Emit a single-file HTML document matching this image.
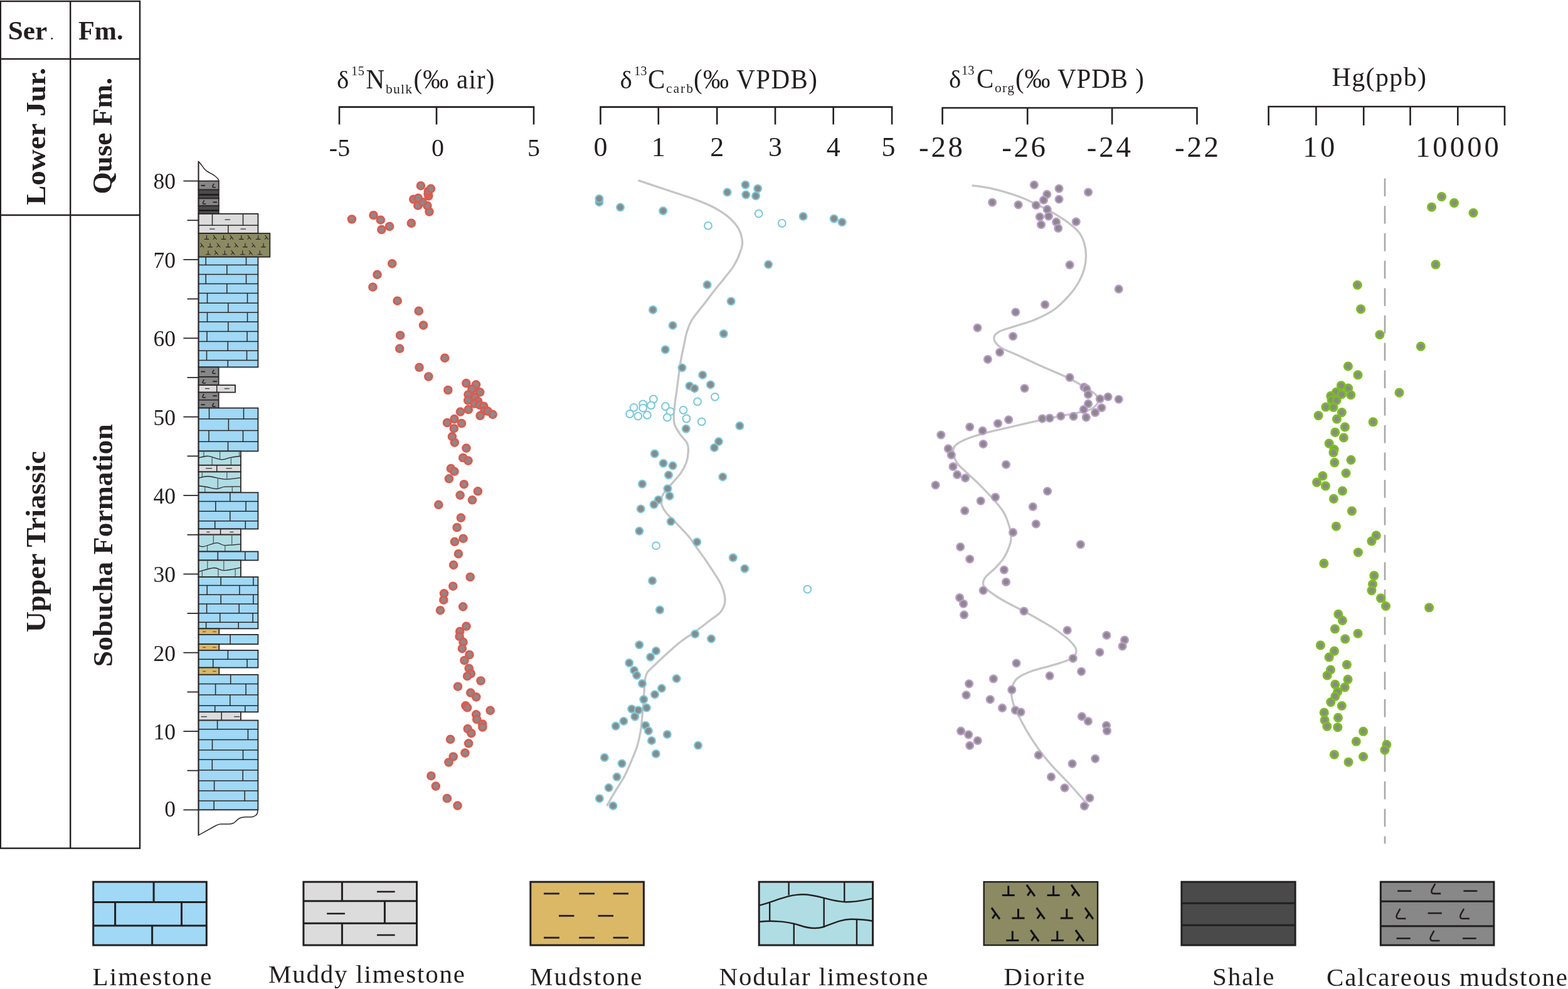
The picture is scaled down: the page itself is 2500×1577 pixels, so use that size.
<!DOCTYPE html>
<html><head><meta charset="utf-8"><title>Figure</title>
<style>html,body{margin:0;padding:0;background:#fff;width:2500px;height:1577px;overflow:hidden}svg{display:block}</style>
</head><body>
<svg width="2500" height="1577" viewBox="0 0 2500 1577">
<rect width="2500" height="1577" fill="#fff"/>
<g fill="none" stroke="#231f20" stroke-width="2.4">
<rect x="0.8" y="2.0" width="222.2" height="1350.6"/>
<line x1="112.2" y1="1.8" x2="112.2" y2="1352.6"/>
<line x1="1.5" y1="94" x2="223" y2="94"/>
<line x1="1.5" y1="343" x2="223" y2="343"/>
</g>
<g style="font-family:'Liberation Serif','Times New Roman',serif;font-weight:bold" fill="#231f20">
<text x="12.8" y="63.4" font-size="42" textLength="62.5" lengthAdjust="spacingAndGlyphs">Ser</text>
<text x="79.6" y="62.9" font-size="26" font-weight="normal">.</text>
<text x="125" y="63.4" font-size="42" textLength="71.5" lengthAdjust="spacingAndGlyphs">Fm.</text>
<text transform="translate(72.2,217.5) rotate(-90)" x="0" y="0" font-size="44" text-anchor="middle" textLength="219" lengthAdjust="spacingAndGlyphs">Lower Jur.</text>
<text transform="translate(177.8,216.6) rotate(-90)" x="0" y="0" font-size="44" text-anchor="middle" textLength="186" lengthAdjust="spacingAndGlyphs">Quse Fm.</text>
<text transform="translate(71.5,863.8) rotate(-90)" x="0" y="0" font-size="44" text-anchor="middle" textLength="289" lengthAdjust="spacingAndGlyphs">Upper  Triassic</text>
<text transform="translate(178.8,869.7) rotate(-90)" x="0" y="0" font-size="44" text-anchor="middle" textLength="387" lengthAdjust="spacingAndGlyphs">Sobucha  Formation</text>
</g>
<path d="M316.5,288.6 L316.5,257.6 C320.5,261 323,266 326,269.5 C330,274.5 338,276.5 342.5,280.5 C346.5,283.5 348.8,286 348.8,288.6" fill="#fff" stroke="#2b2627" stroke-width="1.5"/>
<rect x="316.5" y="288.6" width="32.3" height="14" fill="#878787" stroke="#2b2627" stroke-width="1.8"/>
<line x1="320.5" y1="295.8" x2="327" y2="295.8" stroke="#231f20" stroke-width="1.8"/>
<path d="M341.1,292.8 L339.2,296.4 Q338.4,298.7 340.3,298.7 L343.8,298.7" fill="none" stroke="#231f20" stroke-width="1.5"/>
<rect x="316.5" y="302.6" width="32.3" height="13.8" fill="#4b4b4b" stroke="#2b2627" stroke-width="1.8"/>
<line x1="316.5" y1="310.5" x2="348.8" y2="310.5" stroke="#111" stroke-width="2.0"/>
<rect x="316.5" y="316.4" width="32.3" height="11.9" fill="#878787" stroke="#2b2627" stroke-width="1.8"/>
<path d="M325.6,319.4 L323.7,323 Q322.9,325.3 324.8,325.3 L328.3,325.3" fill="none" stroke="#231f20" stroke-width="1.5"/>
<line x1="339.5" y1="322.4" x2="346" y2="322.4" stroke="#231f20" stroke-width="1.8"/>
<rect x="316.5" y="328.3" width="32.3" height="12.7" fill="#4b4b4b" stroke="#2b2627" stroke-width="1.8"/>
<line x1="316.5" y1="335.5" x2="348.8" y2="335.5" stroke="#111" stroke-width="2.0"/>
<rect x="316.5" y="341" width="94.9" height="31.1" fill="#dcdcdc" stroke="#2b2627" stroke-width="1.8"/>
<line x1="316.5" y1="359.3" x2="411.4" y2="359.3" stroke="#2b2627" stroke-width="1.5"/>
<line x1="338.5" y1="341" x2="338.5" y2="359.3" stroke="#2b2627" stroke-width="1.5"/>
<line x1="387.5" y1="341" x2="387.5" y2="359.3" stroke="#2b2627" stroke-width="1.5"/>
<line x1="363.8" y1="359.3" x2="363.8" y2="372.1" stroke="#2b2627" stroke-width="1.5"/>
<line x1="358.5" y1="350.3" x2="367" y2="350.3" stroke="#4a4a4a" stroke-width="1.5"/>
<line x1="334.1" y1="365.2" x2="342.5" y2="365.2" stroke="#4a4a4a" stroke-width="1.5"/>
<line x1="383.5" y1="365.2" x2="392" y2="365.2" stroke="#4a4a4a" stroke-width="1.5"/>
<rect x="316.5" y="372.1" width="113.8" height="37.6" fill="#8b8a62" stroke="#2b2627" stroke-width="1.8"/>
<path d="M325.7,381.4 L333.3,381.4 M329.5,381.4 L329.5,375.2" stroke="#231f20" stroke-width="1.1" fill="none"/>
<path d="M352.7,381.4 L360.3,381.4 M356.5,381.4 L356.5,375.2" stroke="#231f20" stroke-width="1.1" fill="none"/>
<path d="M381,381.4 L388.6,381.4 M384.8,381.4 L384.8,375.2" stroke="#231f20" stroke-width="1.1" fill="none"/>
<path d="M407.8,381.4 L415.4,381.4 M411.6,381.4 L411.6,375.2" stroke="#231f20" stroke-width="1.1" fill="none"/>
<path d="M340,375 L345.4,381.8 M342.8,378.4 L339.8,381.6" stroke="#231f20" stroke-width="1.1" fill="none"/>
<path d="M366.7,375 L372.1,381.8 M369.5,378.4 L366.5,381.6" stroke="#231f20" stroke-width="1.1" fill="none"/>
<path d="M394.8,375 L400.2,381.8 M397.6,378.4 L394.6,381.6" stroke="#231f20" stroke-width="1.1" fill="none"/>
<path d="M422.5,375 L427.9,381.8 M425.3,378.4 L422.3,381.6" stroke="#231f20" stroke-width="1.1" fill="none"/>
<path d="M331.2,393.9 L338.8,393.9 M335,393.9 L335,387.7" stroke="#231f20" stroke-width="1.1" fill="none"/>
<path d="M359.9,393.9 L367.5,393.9 M363.7,393.9 L363.7,387.7" stroke="#231f20" stroke-width="1.1" fill="none"/>
<path d="M387.1,393.9 L394.7,393.9 M390.9,393.9 L390.9,387.7" stroke="#231f20" stroke-width="1.1" fill="none"/>
<path d="M416.2,393.9 L423.8,393.9 M420,393.9 L420,387.7" stroke="#231f20" stroke-width="1.1" fill="none"/>
<path d="M319.5,387.5 L324.9,394.3 M322.3,390.9 L319.3,394.1" stroke="#231f20" stroke-width="1.1" fill="none"/>
<path d="M345.9,387.5 L351.3,394.3 M348.7,390.9 L345.7,394.1" stroke="#231f20" stroke-width="1.1" fill="none"/>
<path d="M374.3,387.5 L379.7,394.3 M377.1,390.9 L374.1,394.1" stroke="#231f20" stroke-width="1.1" fill="none"/>
<path d="M401.7,387.5 L407.1,394.3 M404.5,390.9 L401.5,394.1" stroke="#231f20" stroke-width="1.1" fill="none"/>
<path d="M328.1,405.7 L335.7,405.7 M331.9,405.7 L331.9,399.5" stroke="#231f20" stroke-width="1.1" fill="none"/>
<path d="M354.5,405.7 L362.1,405.7 M358.3,405.7 L358.3,399.5" stroke="#231f20" stroke-width="1.1" fill="none"/>
<path d="M382.9,405.7 L390.5,405.7 M386.7,405.7 L386.7,399.5" stroke="#231f20" stroke-width="1.1" fill="none"/>
<path d="M410.5,405.7 L418.1,405.7 M414.3,405.7 L414.3,399.5" stroke="#231f20" stroke-width="1.1" fill="none"/>
<path d="M342.3,399.3 L347.7,406.1 M345.1,402.7 L342.1,405.9" stroke="#231f20" stroke-width="1.1" fill="none"/>
<path d="M368.8,399.3 L374.2,406.1 M371.6,402.7 L368.6,405.9" stroke="#231f20" stroke-width="1.1" fill="none"/>
<path d="M397.1,399.3 L402.5,406.1 M399.9,402.7 L396.9,405.9" stroke="#231f20" stroke-width="1.1" fill="none"/>
<rect x="316.5" y="409.7" width="94.9" height="175.7" fill="#a0d8f5" stroke="#2b2627" stroke-width="1.8"/>
<line x1="316.5" y1="422.4" x2="411.4" y2="422.4" stroke="#2b2627" stroke-width="1.5"/>
<line x1="316.5" y1="437.5" x2="411.4" y2="437.5" stroke="#2b2627" stroke-width="1.5"/>
<line x1="316.5" y1="452.4" x2="411.4" y2="452.4" stroke="#2b2627" stroke-width="1.5"/>
<line x1="316.5" y1="467.4" x2="411.4" y2="467.4" stroke="#2b2627" stroke-width="1.5"/>
<line x1="316.5" y1="483.3" x2="411.4" y2="483.3" stroke="#2b2627" stroke-width="1.5"/>
<line x1="316.5" y1="498.2" x2="411.4" y2="498.2" stroke="#2b2627" stroke-width="1.5"/>
<line x1="316.5" y1="513.2" x2="411.4" y2="513.2" stroke="#2b2627" stroke-width="1.5"/>
<line x1="316.5" y1="528.4" x2="411.4" y2="528.4" stroke="#2b2627" stroke-width="1.5"/>
<line x1="316.5" y1="544.4" x2="411.4" y2="544.4" stroke="#2b2627" stroke-width="1.5"/>
<line x1="316.5" y1="559.3" x2="411.4" y2="559.3" stroke="#2b2627" stroke-width="1.5"/>
<line x1="316.5" y1="574.5" x2="411.4" y2="574.5" stroke="#2b2627" stroke-width="1.5"/>
<line x1="328.2" y1="409.7" x2="328.2" y2="422.4" stroke="#2b2627" stroke-width="1.5"/>
<line x1="392.5" y1="409.7" x2="392.5" y2="422.4" stroke="#2b2627" stroke-width="1.5"/>
<line x1="361.8" y1="422.4" x2="361.8" y2="437.5" stroke="#2b2627" stroke-width="1.5"/>
<line x1="328.2" y1="437.5" x2="328.2" y2="452.4" stroke="#2b2627" stroke-width="1.5"/>
<line x1="392.5" y1="437.5" x2="392.5" y2="452.4" stroke="#2b2627" stroke-width="1.5"/>
<line x1="361.8" y1="452.4" x2="361.8" y2="467.4" stroke="#2b2627" stroke-width="1.5"/>
<line x1="330.5" y1="467.4" x2="330.5" y2="483.3" stroke="#2b2627" stroke-width="1.5"/>
<line x1="394.5" y1="467.4" x2="394.5" y2="483.3" stroke="#2b2627" stroke-width="1.5"/>
<line x1="363.8" y1="483.3" x2="363.8" y2="498.2" stroke="#2b2627" stroke-width="1.5"/>
<line x1="330.5" y1="498.2" x2="330.5" y2="513.2" stroke="#2b2627" stroke-width="1.5"/>
<line x1="394.5" y1="498.2" x2="394.5" y2="513.2" stroke="#2b2627" stroke-width="1.5"/>
<line x1="363.8" y1="513.2" x2="363.8" y2="528.4" stroke="#2b2627" stroke-width="1.5"/>
<line x1="330" y1="528.4" x2="330" y2="544.4" stroke="#2b2627" stroke-width="1.5"/>
<line x1="394" y1="528.4" x2="394" y2="544.4" stroke="#2b2627" stroke-width="1.5"/>
<line x1="363.3" y1="544.4" x2="363.3" y2="559.3" stroke="#2b2627" stroke-width="1.5"/>
<line x1="329.5" y1="559.3" x2="329.5" y2="574.5" stroke="#2b2627" stroke-width="1.5"/>
<line x1="393.5" y1="559.3" x2="393.5" y2="574.5" stroke="#2b2627" stroke-width="1.5"/>
<line x1="363.3" y1="574.5" x2="363.3" y2="585.4" stroke="#2b2627" stroke-width="1.5"/>
<rect x="316.5" y="585.4" width="32.1" height="28.7" fill="#878787" stroke="#2b2627" stroke-width="1.8"/>
<line x1="316.5" y1="600.9" x2="348.6" y2="600.9" stroke="#231f20" stroke-width="1.6"/>
<line x1="320.3" y1="592.6" x2="326.9" y2="592.6" stroke="#231f20" stroke-width="1.8"/>
<path d="M341,589.6 L339.1,593.2 Q338.3,595.5 340.2,595.5 L343.7,595.5" fill="none" stroke="#231f20" stroke-width="1.5"/>
<path d="M325.2,605.2 L323.3,608.8 Q322.5,611.1 324.4,611.1 L327.9,611.1" fill="none" stroke="#231f20" stroke-width="1.5"/>
<line x1="339.4" y1="608.2" x2="346" y2="608.2" stroke="#231f20" stroke-width="1.8"/>
<rect x="316.5" y="614.1" width="58.5" height="11.5" fill="#dcdcdc" stroke="#2b2627" stroke-width="1.8"/>
<line x1="345.7" y1="614.1" x2="345.7" y2="625.6" stroke="#2b2627" stroke-width="1.5"/>
<line x1="326.9" y1="619.6" x2="334.1" y2="619.6" stroke="#4a4a4a" stroke-width="1.5"/>
<line x1="357.8" y1="619.6" x2="365.7" y2="619.6" stroke="#4a4a4a" stroke-width="1.5"/>
<rect x="316.5" y="625.6" width="32.1" height="25" fill="#878787" stroke="#2b2627" stroke-width="1.8"/>
<line x1="316.5" y1="637.8" x2="348.6" y2="637.8" stroke="#231f20" stroke-width="1.6"/>
<path d="M325.2,628.2 L323.3,631.8 Q322.5,634.1 324.4,634.1 L327.9,634.1" fill="none" stroke="#231f20" stroke-width="1.5"/>
<line x1="339.4" y1="631.2" x2="346" y2="631.2" stroke="#231f20" stroke-width="1.8"/>
<line x1="320.3" y1="645.3" x2="326.9" y2="645.3" stroke="#231f20" stroke-width="1.8"/>
<path d="M341,642.3 L339.1,645.9 Q338.3,648.2 340.2,648.2 L343.7,648.2" fill="none" stroke="#231f20" stroke-width="1.5"/>
<rect x="316.5" y="650.6" width="94.9" height="68.8" fill="#a0d8f5" stroke="#2b2627" stroke-width="1.8"/>
<line x1="316.5" y1="668.1" x2="411.4" y2="668.1" stroke="#2b2627" stroke-width="1.5"/>
<line x1="316.5" y1="686.5" x2="411.4" y2="686.5" stroke="#2b2627" stroke-width="1.5"/>
<line x1="316.5" y1="704.3" x2="411.4" y2="704.3" stroke="#2b2627" stroke-width="1.5"/>
<line x1="333.5" y1="650.6" x2="333.5" y2="668.1" stroke="#2b2627" stroke-width="1.5"/>
<line x1="388.5" y1="650.6" x2="388.5" y2="668.1" stroke="#2b2627" stroke-width="1.5"/>
<line x1="364.4" y1="668.1" x2="364.4" y2="686.5" stroke="#2b2627" stroke-width="1.5"/>
<line x1="333" y1="686.5" x2="333" y2="704.3" stroke="#2b2627" stroke-width="1.5"/>
<line x1="387.5" y1="686.5" x2="387.5" y2="704.3" stroke="#2b2627" stroke-width="1.5"/>
<line x1="363.5" y1="704.3" x2="363.5" y2="719.4" stroke="#2b2627" stroke-width="1.5"/>
<rect x="316.5" y="719.4" width="67.4" height="22.4" fill="#b0dde4" stroke="#2b2627" stroke-width="1.8"/>
<path d="M316.5,730 C319.1,729.5 326.1,726.8 332.2,727.3 C338.3,727.8 347.2,732.6 353.2,732.9 C359.2,733.2 363.3,730.2 368.4,729.3 C373.5,728.4 381.3,727.6 383.9,727.3" fill="none" stroke="#2b2627" stroke-width="1.3"/>
<line x1="324.9" y1="719.4" x2="324.9" y2="729.5" stroke="#555" stroke-width="1.2"/>
<line x1="350.6" y1="719.4" x2="350.6" y2="732" stroke="#555" stroke-width="1.2"/>
<line x1="381.5" y1="719.4" x2="381.5" y2="727.6" stroke="#555" stroke-width="1.2"/>
<line x1="338.1" y1="729.5" x2="338.1" y2="741.8" stroke="#555" stroke-width="1.2"/>
<line x1="368.4" y1="729.6" x2="368.4" y2="741.8" stroke="#555" stroke-width="1.2"/>
<rect x="316.5" y="741.8" width="67.4" height="10.6" fill="#dcdcdc" stroke="#2b2627" stroke-width="1.8"/>
<line x1="345.7" y1="741.8" x2="345.7" y2="752.4" stroke="#2b2627" stroke-width="1.5"/>
<line x1="328" y1="746.8" x2="338" y2="746.8" stroke="#4a4a4a" stroke-width="1.5"/>
<line x1="360.5" y1="746.8" x2="369.7" y2="746.8" stroke="#4a4a4a" stroke-width="1.5"/>
<rect x="316.5" y="752.4" width="67.4" height="33" fill="#b0dde4" stroke="#2b2627" stroke-width="1.8"/>
<path d="M316.5,762.4 C319.1,761.9 325,759.2 332,759.5 C339,759.8 349.9,763.7 358.5,764.1 C367.1,764.5 379.7,762.1 383.9,761.7" fill="none" stroke="#2b2627" stroke-width="1.3"/>
<path d="M316.5,774.5 C318.8,774.8 325.2,775.7 330,776.5 C334.8,777.3 340.6,779.5 345.3,779.5 C350.1,779.5 352.1,776.8 358.5,776.2 C364.9,775.6 379.7,775.9 383.9,775.8" fill="none" stroke="#2b2627" stroke-width="1.3"/>
<line x1="322.3" y1="752.4" x2="322.3" y2="762" stroke="#555" stroke-width="1.2"/>
<line x1="361.8" y1="752.4" x2="361.8" y2="764" stroke="#555" stroke-width="1.2"/>
<line x1="347.3" y1="762" x2="347.3" y2="778.5" stroke="#555" stroke-width="1.2"/>
<line x1="326.8" y1="776.2" x2="326.8" y2="785.4" stroke="#555" stroke-width="1.2"/>
<line x1="370.3" y1="776" x2="370.3" y2="785.4" stroke="#555" stroke-width="1.2"/>
<rect x="316.5" y="785.4" width="94.9" height="58" fill="#a0d8f5" stroke="#2b2627" stroke-width="1.8"/>
<line x1="316.5" y1="799.5" x2="411.4" y2="799.5" stroke="#2b2627" stroke-width="1.5"/>
<line x1="316.5" y1="815.3" x2="411.4" y2="815.3" stroke="#2b2627" stroke-width="1.5"/>
<line x1="316.5" y1="830.8" x2="411.4" y2="830.8" stroke="#2b2627" stroke-width="1.5"/>
<line x1="366.8" y1="785.4" x2="366.8" y2="799.5" stroke="#2b2627" stroke-width="1.5"/>
<line x1="343.8" y1="799.5" x2="343.8" y2="815.3" stroke="#2b2627" stroke-width="1.5"/>
<line x1="392.1" y1="799.5" x2="392.1" y2="815.3" stroke="#2b2627" stroke-width="1.5"/>
<line x1="366.8" y1="815.3" x2="366.8" y2="830.8" stroke="#2b2627" stroke-width="1.5"/>
<line x1="342.7" y1="830.8" x2="342.7" y2="843.4" stroke="#2b2627" stroke-width="1.5"/>
<line x1="391.3" y1="830.8" x2="391.3" y2="843.4" stroke="#2b2627" stroke-width="1.5"/>
<rect x="316.5" y="843.4" width="67.4" height="9.2" fill="#dcdcdc" stroke="#2b2627" stroke-width="1.8"/>
<line x1="351.6" y1="843.4" x2="351.6" y2="852.6" stroke="#2b2627" stroke-width="1.5"/>
<line x1="329.3" y1="848.4" x2="334.5" y2="848.4" stroke="#4a4a4a" stroke-width="1.5"/>
<line x1="366.4" y1="848.4" x2="372.3" y2="848.4" stroke="#4a4a4a" stroke-width="1.5"/>
<rect x="316.5" y="852.6" width="67.4" height="26.9" fill="#b0dde4" stroke="#2b2627" stroke-width="1.8"/>
<path d="M316.5,869.6 C317.8,869.9 319.4,872.2 324.2,871.6 C329,871 339.6,866 345.3,865.7 C351,865.4 352.1,869.3 358.5,869.6 C364.9,869.9 379.7,867.9 383.9,867.6" fill="none" stroke="#2b2627" stroke-width="1.3"/>
<line x1="340.3" y1="852.6" x2="340.3" y2="866.5" stroke="#555" stroke-width="1.2"/>
<line x1="369.7" y1="852.6" x2="369.7" y2="868.8" stroke="#555" stroke-width="1.2"/>
<line x1="330.5" y1="869.5" x2="330.5" y2="879.5" stroke="#555" stroke-width="1.2"/>
<line x1="358.8" y1="869.6" x2="358.8" y2="879.5" stroke="#555" stroke-width="1.2"/>
<rect x="316.5" y="879.5" width="94.9" height="13.9" fill="#a0d8f5" stroke="#2b2627" stroke-width="1.8"/>
<line x1="347.3" y1="879.5" x2="347.3" y2="893.4" stroke="#2b2627" stroke-width="1.5"/>
<line x1="390.8" y1="879.5" x2="390.8" y2="893.4" stroke="#2b2627" stroke-width="1.5"/>
<rect x="316.5" y="893.4" width="67.4" height="26.6" fill="#b0dde4" stroke="#2b2627" stroke-width="1.8"/>
<path d="M316.5,911.7 C320.6,910.7 334.5,905.8 341.3,905.5 C348.1,905.2 350,909.8 357.1,909.7 C364.2,909.6 379.4,905.9 383.9,905.1" fill="none" stroke="#2b2627" stroke-width="1.3"/>
<line x1="330.8" y1="893.4" x2="330.8" y2="908.5" stroke="#555" stroke-width="1.2"/>
<line x1="356.8" y1="893.4" x2="356.8" y2="909.5" stroke="#555" stroke-width="1.2"/>
<line x1="322.3" y1="910.5" x2="322.3" y2="920" stroke="#555" stroke-width="1.2"/>
<line x1="347.9" y1="906.5" x2="347.9" y2="920" stroke="#555" stroke-width="1.2"/>
<line x1="375.1" y1="906.5" x2="375.1" y2="920" stroke="#555" stroke-width="1.2"/>
<rect x="316.5" y="920" width="94.9" height="82.4" fill="#a0d8f5" stroke="#2b2627" stroke-width="1.8"/>
<line x1="316.5" y1="933.6" x2="411.4" y2="933.6" stroke="#2b2627" stroke-width="1.5"/>
<line x1="316.5" y1="948.3" x2="411.4" y2="948.3" stroke="#2b2627" stroke-width="1.5"/>
<line x1="316.5" y1="962.9" x2="411.4" y2="962.9" stroke="#2b2627" stroke-width="1.5"/>
<line x1="316.5" y1="977.7" x2="411.4" y2="977.7" stroke="#2b2627" stroke-width="1.5"/>
<line x1="316.5" y1="992.2" x2="411.4" y2="992.2" stroke="#2b2627" stroke-width="1.5"/>
<line x1="352.2" y1="920" x2="352.2" y2="933.6" stroke="#2b2627" stroke-width="1.5"/>
<line x1="403.9" y1="920" x2="403.9" y2="933.6" stroke="#2b2627" stroke-width="1.5"/>
<line x1="330.2" y1="933.6" x2="330.2" y2="948.3" stroke="#2b2627" stroke-width="1.5"/>
<line x1="381.9" y1="933.6" x2="381.9" y2="948.3" stroke="#2b2627" stroke-width="1.5"/>
<line x1="352.2" y1="948.3" x2="352.2" y2="962.9" stroke="#2b2627" stroke-width="1.5"/>
<line x1="403.9" y1="948.3" x2="403.9" y2="962.9" stroke="#2b2627" stroke-width="1.5"/>
<line x1="329.6" y1="962.9" x2="329.6" y2="977.7" stroke="#2b2627" stroke-width="1.5"/>
<line x1="381.2" y1="962.9" x2="381.2" y2="977.7" stroke="#2b2627" stroke-width="1.5"/>
<line x1="350.7" y1="977.7" x2="350.7" y2="992.2" stroke="#2b2627" stroke-width="1.5"/>
<line x1="403.1" y1="977.7" x2="403.1" y2="992.2" stroke="#2b2627" stroke-width="1.5"/>
<line x1="328.6" y1="992.2" x2="328.6" y2="1002.4" stroke="#2b2627" stroke-width="1.5"/>
<line x1="380.2" y1="992.2" x2="380.2" y2="1002.4" stroke="#2b2627" stroke-width="1.5"/>
<rect x="316.5" y="1002.4" width="32.8" height="9.5" fill="#dbb866" stroke="#2b2627" stroke-width="1.8"/>
<line x1="323" y1="1007.3" x2="328.2" y2="1007.3" stroke="#6a6a6a" stroke-width="1.6"/>
<line x1="339.1" y1="1007.3" x2="344.7" y2="1007.3" stroke="#6a6a6a" stroke-width="1.6"/>
<rect x="316.5" y="1011.9" width="94.9" height="15.2" fill="#a0d8f5" stroke="#2b2627" stroke-width="1.8"/>
<line x1="367.1" y1="1011.9" x2="367.1" y2="1027.1" stroke="#2b2627" stroke-width="1.5"/>
<rect x="316.5" y="1027.1" width="32.8" height="9.8" fill="#dbb866" stroke="#2b2627" stroke-width="1.8"/>
<line x1="323" y1="1032.3" x2="328.2" y2="1032.3" stroke="#6a6a6a" stroke-width="1.6"/>
<line x1="339.1" y1="1032.3" x2="344.7" y2="1032.3" stroke="#6a6a6a" stroke-width="1.6"/>
<rect x="316.5" y="1036.9" width="94.9" height="27.7" fill="#a0d8f5" stroke="#2b2627" stroke-width="1.8"/>
<line x1="316.5" y1="1051.2" x2="411.4" y2="1051.2" stroke="#2b2627" stroke-width="1.5"/>
<line x1="363.4" y1="1036.9" x2="363.4" y2="1051.2" stroke="#2b2627" stroke-width="1.5"/>
<line x1="339.7" y1="1051.2" x2="339.7" y2="1064.6" stroke="#2b2627" stroke-width="1.5"/>
<line x1="394" y1="1051.2" x2="394" y2="1064.6" stroke="#2b2627" stroke-width="1.5"/>
<rect x="316.5" y="1064.6" width="32.8" height="11.2" fill="#dbb866" stroke="#2b2627" stroke-width="1.8"/>
<line x1="323" y1="1070.5" x2="328.2" y2="1070.5" stroke="#6a6a6a" stroke-width="1.6"/>
<line x1="339.1" y1="1070.5" x2="344.7" y2="1070.5" stroke="#6a6a6a" stroke-width="1.6"/>
<rect x="316.5" y="1075.8" width="94.9" height="59.5" fill="#a0d8f5" stroke="#2b2627" stroke-width="1.8"/>
<line x1="316.5" y1="1090.5" x2="411.4" y2="1090.5" stroke="#2b2627" stroke-width="1.5"/>
<line x1="316.5" y1="1108" x2="411.4" y2="1108" stroke="#2b2627" stroke-width="1.5"/>
<line x1="316.5" y1="1125.2" x2="411.4" y2="1125.2" stroke="#2b2627" stroke-width="1.5"/>
<line x1="367.7" y1="1075.8" x2="367.7" y2="1090.5" stroke="#2b2627" stroke-width="1.5"/>
<line x1="343.6" y1="1090.5" x2="343.6" y2="1108" stroke="#2b2627" stroke-width="1.5"/>
<line x1="392.1" y1="1090.5" x2="392.1" y2="1108" stroke="#2b2627" stroke-width="1.5"/>
<line x1="366.8" y1="1108" x2="366.8" y2="1125.2" stroke="#2b2627" stroke-width="1.5"/>
<line x1="342.7" y1="1125.2" x2="342.7" y2="1135.3" stroke="#2b2627" stroke-width="1.5"/>
<line x1="390.8" y1="1125.2" x2="390.8" y2="1135.3" stroke="#2b2627" stroke-width="1.5"/>
<rect x="316.5" y="1135.3" width="67.4" height="13.3" fill="#dcdcdc" stroke="#2b2627" stroke-width="1.8"/>
<line x1="353.2" y1="1135.3" x2="353.2" y2="1148.6" stroke="#2b2627" stroke-width="1.5"/>
<line x1="320.6" y1="1142.7" x2="329.8" y2="1142.7" stroke="#4a4a4a" stroke-width="1.5"/>
<line x1="373.2" y1="1142.7" x2="382.2" y2="1142.7" stroke="#4a4a4a" stroke-width="1.5"/>
<rect x="316.5" y="1148.6" width="94.9" height="142.8" fill="#a0d8f5" stroke="#2b2627" stroke-width="1.8"/>
<line x1="316.5" y1="1162.7" x2="411.4" y2="1162.7" stroke="#2b2627" stroke-width="1.5"/>
<line x1="316.5" y1="1179.5" x2="411.4" y2="1179.5" stroke="#2b2627" stroke-width="1.5"/>
<line x1="316.5" y1="1196" x2="411.4" y2="1196" stroke="#2b2627" stroke-width="1.5"/>
<line x1="316.5" y1="1211.2" x2="411.4" y2="1211.2" stroke="#2b2627" stroke-width="1.5"/>
<line x1="316.5" y1="1228" x2="411.4" y2="1228" stroke="#2b2627" stroke-width="1.5"/>
<line x1="316.5" y1="1244.9" x2="411.4" y2="1244.9" stroke="#2b2627" stroke-width="1.5"/>
<line x1="316.5" y1="1261.1" x2="411.4" y2="1261.1" stroke="#2b2627" stroke-width="1.5"/>
<line x1="316.5" y1="1277" x2="411.4" y2="1277" stroke="#2b2627" stroke-width="1.5"/>
<line x1="346.6" y1="1148.6" x2="346.6" y2="1162.7" stroke="#2b2627" stroke-width="1.5"/>
<line x1="395.4" y1="1162.7" x2="395.4" y2="1179.5" stroke="#2b2627" stroke-width="1.5"/>
<line x1="338.5" y1="1179.5" x2="338.5" y2="1196" stroke="#2b2627" stroke-width="1.5"/>
<line x1="387.5" y1="1196" x2="387.5" y2="1211.2" stroke="#2b2627" stroke-width="1.5"/>
<line x1="338.3" y1="1211.2" x2="338.3" y2="1228" stroke="#2b2627" stroke-width="1.5"/>
<line x1="387.2" y1="1228" x2="387.2" y2="1244.9" stroke="#2b2627" stroke-width="1.5"/>
<line x1="341.6" y1="1244.9" x2="341.6" y2="1261.1" stroke="#2b2627" stroke-width="1.5"/>
<line x1="390.2" y1="1261.1" x2="390.2" y2="1277" stroke="#2b2627" stroke-width="1.5"/>
<line x1="341.2" y1="1277" x2="341.2" y2="1291.4" stroke="#2b2627" stroke-width="1.5"/>
<path d="M316.5,1291.4 L410.8,1291.4 L410.8,1294 C410.8,1299 406,1302.8 400,1302.8 L391,1302.8 C384,1302.8 378.5,1306.5 375.5,1310 C373,1313 369,1314 364,1314 L352,1314 C349,1314 347,1315 344,1316.5 L316.5,1331.8 Z" fill="#fff" stroke="#2b2627" stroke-width="1.5"/>
<line x1="316.5" y1="257.6" x2="316.5" y2="1331.8" stroke="#2b2627" stroke-width="1.8"/>
<line x1="292.4" y1="1291.4" x2="316.5" y2="1291.4" stroke="#2b2627" stroke-width="1.8"/>
<text x="280" y="1301.7" font-size="35.5" text-anchor="end" style="font-family:'Liberation Serif','Times New Roman',serif" fill="#231f20">0</text>
<line x1="298.5" y1="1228.7" x2="316.5" y2="1228.7" stroke="#2b2627" stroke-width="1.8"/>
<line x1="292.4" y1="1166.1" x2="316.5" y2="1166.1" stroke="#2b2627" stroke-width="1.8"/>
<text x="280" y="1178.9" font-size="35.5" text-anchor="end" style="font-family:'Liberation Serif','Times New Roman',serif" fill="#231f20">10</text>
<line x1="298.5" y1="1103.4" x2="316.5" y2="1103.4" stroke="#2b2627" stroke-width="1.8"/>
<line x1="292.4" y1="1040.7" x2="316.5" y2="1040.7" stroke="#2b2627" stroke-width="1.8"/>
<text x="280" y="1053.5" font-size="35.5" text-anchor="end" style="font-family:'Liberation Serif','Times New Roman',serif" fill="#231f20">20</text>
<line x1="298.5" y1="978" x2="316.5" y2="978" stroke="#2b2627" stroke-width="1.8"/>
<line x1="292.4" y1="915.4" x2="316.5" y2="915.4" stroke="#2b2627" stroke-width="1.8"/>
<text x="280" y="928.1" font-size="35.5" text-anchor="end" style="font-family:'Liberation Serif','Times New Roman',serif" fill="#231f20">30</text>
<line x1="298.5" y1="852.7" x2="316.5" y2="852.7" stroke="#2b2627" stroke-width="1.8"/>
<line x1="292.4" y1="790" x2="316.5" y2="790" stroke="#2b2627" stroke-width="1.8"/>
<text x="280" y="802.8" font-size="35.5" text-anchor="end" style="font-family:'Liberation Serif','Times New Roman',serif" fill="#231f20">40</text>
<line x1="298.5" y1="727.3" x2="316.5" y2="727.3" stroke="#2b2627" stroke-width="1.8"/>
<line x1="292.4" y1="664.7" x2="316.5" y2="664.7" stroke="#2b2627" stroke-width="1.8"/>
<text x="280" y="677.5" font-size="35.5" text-anchor="end" style="font-family:'Liberation Serif','Times New Roman',serif" fill="#231f20">50</text>
<line x1="298.5" y1="602" x2="316.5" y2="602" stroke="#2b2627" stroke-width="1.8"/>
<line x1="292.4" y1="539.3" x2="316.5" y2="539.3" stroke="#2b2627" stroke-width="1.8"/>
<text x="280" y="552.1" font-size="35.5" text-anchor="end" style="font-family:'Liberation Serif','Times New Roman',serif" fill="#231f20">60</text>
<line x1="298.5" y1="476.6" x2="316.5" y2="476.6" stroke="#2b2627" stroke-width="1.8"/>
<line x1="292.4" y1="414" x2="316.5" y2="414" stroke="#2b2627" stroke-width="1.8"/>
<text x="280" y="426.8" font-size="35.5" text-anchor="end" style="font-family:'Liberation Serif','Times New Roman',serif" fill="#231f20">70</text>
<line x1="298.5" y1="351.3" x2="316.5" y2="351.3" stroke="#2b2627" stroke-width="1.8"/>
<line x1="292.4" y1="288.6" x2="316.5" y2="288.6" stroke="#2b2627" stroke-width="1.8"/>
<text x="280" y="301.4" font-size="35.5" text-anchor="end" style="font-family:'Liberation Serif','Times New Roman',serif" fill="#231f20">80</text>
<path d="M541,198.5 L541,170.6 L851,170.6 L851,198.5" fill="none" stroke="#231f20" stroke-width="2.6"/>
<line x1="696" y1="170.6" x2="696" y2="198.5" stroke="#231f20" stroke-width="2.6"/>
<path d="M957.4,198.5 L957.4,170.6 L1422.1,170.6 L1422.1,198.5" fill="none" stroke="#231f20" stroke-width="2.6"/>
<line x1="1049.8" y1="170.6" x2="1049.8" y2="198.5" stroke="#231f20" stroke-width="2.6"/>
<line x1="1143.2" y1="170.6" x2="1143.2" y2="198.5" stroke="#231f20" stroke-width="2.6"/>
<line x1="1236" y1="170.6" x2="1236" y2="198.5" stroke="#231f20" stroke-width="2.6"/>
<line x1="1328.7" y1="170.6" x2="1328.7" y2="198.5" stroke="#231f20" stroke-width="2.6"/>
<path d="M1502.6,198.5 L1502.6,172 L1908.5,172 L1908.5,198.5" fill="none" stroke="#231f20" stroke-width="2.6"/>
<line x1="1638.2" y1="172" x2="1638.2" y2="198.5" stroke="#231f20" stroke-width="2.6"/>
<line x1="1773.1" y1="172" x2="1773.1" y2="198.5" stroke="#231f20" stroke-width="2.6"/>
<path d="M2022.6,200 L2022.6,170 L2399,170 L2399,200" fill="none" stroke="#231f20" stroke-width="2.6"/>
<line x1="2098.4" y1="170" x2="2098.4" y2="200" stroke="#231f20" stroke-width="2.6"/>
<line x1="2174.2" y1="170" x2="2174.2" y2="200" stroke="#231f20" stroke-width="2.6"/>
<line x1="2248.5" y1="170" x2="2248.5" y2="200" stroke="#231f20" stroke-width="2.6"/>
<line x1="2324.3" y1="170" x2="2324.3" y2="200" stroke="#231f20" stroke-width="2.6"/>
<text x="541.5" y="248.6" font-size="40" text-anchor="middle" style="font-family:'Liberation Serif','Times New Roman',serif" fill="#231f20">-5</text>
<text x="698" y="248.6" font-size="40" text-anchor="middle" style="font-family:'Liberation Serif','Times New Roman',serif" fill="#231f20">0</text>
<text x="851" y="248.6" font-size="40" text-anchor="middle" style="font-family:'Liberation Serif','Times New Roman',serif" fill="#231f20">5</text>
<text x="957.4" y="248.8" font-size="44" text-anchor="middle" style="font-family:'Liberation Serif','Times New Roman',serif" fill="#231f20">0</text>
<text x="1049.8" y="248.8" font-size="44" text-anchor="middle" style="font-family:'Liberation Serif','Times New Roman',serif" fill="#231f20">1</text>
<text x="1143.2" y="248.8" font-size="44" text-anchor="middle" style="font-family:'Liberation Serif','Times New Roman',serif" fill="#231f20">2</text>
<text x="1236" y="248.8" font-size="44" text-anchor="middle" style="font-family:'Liberation Serif','Times New Roman',serif" fill="#231f20">3</text>
<text x="1328.7" y="248.8" font-size="44" text-anchor="middle" style="font-family:'Liberation Serif','Times New Roman',serif" fill="#231f20">4</text>
<text x="1416.5" y="248.8" font-size="44" text-anchor="middle" style="font-family:'Liberation Serif','Times New Roman',serif" fill="#231f20">5</text>
<text x="1465" y="249.9" font-size="47" textLength="70.1" lengthAdjust="spacing" style="font-family:'Liberation Serif','Times New Roman',serif" fill="#231f20">-28</text>
<text x="1597.2" y="249.9" font-size="47" textLength="69.8" lengthAdjust="spacing" style="font-family:'Liberation Serif','Times New Roman',serif" fill="#231f20">-26</text>
<text x="1732.8" y="249.9" font-size="47" textLength="70.2" lengthAdjust="spacing" style="font-family:'Liberation Serif','Times New Roman',serif" fill="#231f20">-24</text>
<text x="1873" y="249.9" font-size="47" textLength="70.1" lengthAdjust="spacing" style="font-family:'Liberation Serif','Times New Roman',serif" fill="#231f20">-22</text>
<text x="2077.2" y="249.5" font-size="46.5" textLength="51.1" lengthAdjust="spacing" style="font-family:'Liberation Serif','Times New Roman',serif" fill="#231f20">10</text>
<text x="2256.9" y="249.5" font-size="46.5" textLength="132.9" lengthAdjust="spacing" style="font-family:'Liberation Serif','Times New Roman',serif" fill="#231f20">10000</text>
<g style="font-family:'Liberation Serif','Times New Roman',serif" fill="#231f20">
<text x="537" y="140.7" font-size="41">δ</text>
<text x="560" y="120" font-size="20.5" textLength="21" lengthAdjust="spacing">15</text>
<text transform="translate(0,140.7) scale(1,1.07) translate(0,-140.7)" x="583.5" y="140.7" font-size="41">N</text>
<text x="615" y="148.5" font-size="21.5" textLength="42" lengthAdjust="spacing">bulk</text>
<text transform="translate(0,140.7) scale(1,1.07) translate(0,-140.7)" x="659.5" y="140.7" font-size="41" textLength="129">(‰ air)</text>
<text x="988.5" y="140.9" font-size="41">δ</text>
<text x="1011" y="120" font-size="20.5">13</text>
<text transform="translate(0,140.9) scale(1,1.07) translate(0,-140.9)" x="1033" y="140.9" font-size="41">C</text>
<text x="1062" y="147.8" font-size="21.5" textLength="43" lengthAdjust="spacing">carb</text>
<text transform="translate(0,140.9) scale(1,1.07) translate(0,-140.9)" x="1106" y="140.9" font-size="41" textLength="197">(‰ VPDB)</text>
<text x="1513" y="139.8" font-size="41">δ</text>
<text x="1533" y="118.5" font-size="20.5">13</text>
<text transform="translate(0,139.8) scale(1,1.07) translate(0,-139.8)" x="1557" y="139.8" font-size="41">C</text>
<text x="1586" y="146.6" font-size="21.5" textLength="31" lengthAdjust="spacing">org</text>
<text transform="translate(0,139.8) scale(1,1.07) translate(0,-139.8)" x="1619" y="139.8" font-size="41" textLength="205">(‰ VPDB )</text>
<text x="2123.5" y="137.3" font-size="42" textLength="150.5">Hg(ppb)</text>
</g>
<line x1="2208" y1="284.6" x2="2208" y2="1345.2" stroke="#a8a8a8" stroke-width="2.6" stroke-dasharray="28.5 15.2"/>
<path d="M1017.5,287.6 C1024.9,290.1 1046.6,297.3 1062,302.5 C1077.4,307.7 1096.9,313.8 1109.8,318.6 C1122.7,323.4 1130.6,326.7 1139.5,331.5 C1148.4,336.3 1156.6,341.8 1163,347.5 C1169.4,353.2 1174.6,359.1 1178,365.5 C1181.4,371.9 1183.2,380 1183.6,386 C1184,392 1182.6,395.3 1180.3,401.6 C1178,407.9 1174.4,416.5 1169.8,424 C1165.2,431.5 1157.4,440.4 1152.7,446.4 C1148,452.4 1146.2,454 1141.5,460 C1136.8,466 1130.8,474.1 1124.4,482.4 C1118,490.7 1108.1,502.3 1103.3,510 C1098.5,517.7 1097.6,521.5 1095.4,528.5 C1093.2,535.5 1091.8,543.9 1090.1,552.2 C1088.3,560.5 1086.7,567.5 1084.9,578.5 C1083.2,589.5 1081,607.8 1079.6,618 C1078.2,628.2 1077.4,632.5 1076.5,640 C1075.6,647.5 1074.4,656.7 1074.3,662.9 C1074.2,669.1 1073.9,672.3 1075.7,677.4 C1077.5,682.5 1081.6,688.4 1084.9,693.2 C1088.2,698 1093.3,702 1095.4,706.4 C1097.5,710.8 1097.6,714.3 1097.4,719.6 C1097.2,724.9 1096.2,732.1 1094.1,738 C1092,743.9 1089.1,749.2 1084.9,755.1 C1080.7,761 1073.9,767.7 1069.1,773.6 C1064.3,779.5 1058.2,785.4 1055.9,790.7 C1053.6,796 1054.1,800.7 1055.2,805.2 C1056.3,809.8 1058.7,813.2 1062.5,818 C1066.3,822.8 1072.4,828 1078.3,834.2 C1084.2,840.4 1092.5,848.7 1098,855.3 C1103.5,861.9 1106.8,867.6 1111.2,873.8 C1115.6,879.9 1120,885.9 1124.4,892.2 C1128.8,898.6 1133.1,904.9 1137.5,911.9 C1141.9,918.9 1147.6,926.6 1150.7,934.3 C1153.8,942 1156.2,951.2 1156,958 C1155.8,964.8 1152.9,970.4 1149.4,975.2 C1145.9,980 1141.3,982 1134.9,987 C1128.5,992 1119.5,998.9 1111.2,1005 C1102.9,1011.1 1092.6,1017.6 1084.9,1023.5 C1077.2,1029.4 1071.7,1034.7 1065.1,1040.6 C1058.5,1046.5 1050.9,1053.7 1045.4,1059 C1039.9,1064.3 1035.1,1067.8 1032.2,1072.2 C1029.3,1076.6 1029.1,1079.9 1028.2,1085.4 C1027.3,1090.9 1027.6,1096.3 1026.9,1105.1 C1026.2,1113.9 1025.2,1128 1024.3,1138 C1023.4,1148 1022.9,1156.3 1021.5,1164.9 C1020.1,1173.5 1018.3,1181.9 1015.9,1189.8 C1013.5,1197.7 1010.4,1204.4 1007.1,1212.3 C1003.8,1220.2 1000,1229.3 995.9,1237.2 C991.8,1245.1 987,1251.6 982.2,1259.6 C977.4,1267.6 969.8,1280.8 967.3,1285.1" fill="none" stroke="#c4c5c5" stroke-width="3.3" stroke-linecap="butt"/>
<path d="M1549.8,295.7 C1555.7,296.7 1572.9,298.6 1585.4,301.6 C1597.9,304.6 1613.9,309.6 1624.9,313.5 C1635.9,317.4 1642.4,321.1 1651.2,325.3 C1660,329.5 1668.7,333.4 1677.5,338.5 C1686.3,343.6 1696.7,350.1 1703.9,355.6 C1711.2,361.1 1716.8,365.9 1721,371.4 C1725.2,376.9 1727.2,382.4 1728.9,388.5 C1730.7,394.6 1731.5,401.7 1731.5,408.3 C1731.5,414.9 1730.7,421.4 1728.9,428 C1727.2,434.6 1724.7,441 1721,447.8 C1717.3,454.6 1713.2,461.3 1706.5,468.9 C1699.8,476.5 1690.8,486.6 1681,493.5 C1671.2,500.4 1659,506 1648,510.6 C1637,515.2 1624.3,518 1615.1,521.1 C1605.9,524.2 1597.8,525.9 1592.7,529 C1587.7,532.1 1584.3,535.4 1584.8,539.6 C1585.2,543.8 1589.2,549.6 1595.4,554 C1601.6,558.4 1610.7,560.9 1621.7,565.9 C1632.7,570.9 1648,578.4 1661.2,584.3 C1674.4,590.2 1689.7,596.2 1700.7,601.5 C1711.7,606.8 1719.4,611.3 1727.1,615.9 C1734.8,620.5 1742.8,624.9 1746.8,629.1 C1750.8,633.3 1752.1,637.1 1750.8,641 C1749.5,644.9 1744.4,649.8 1739.1,652.6 C1733.8,655.4 1727,656.1 1719.2,657.9 C1711.5,659.7 1702.6,661.2 1692.6,663.2 C1682.6,665.2 1672.7,667 1659.4,669.9 C1646.1,672.8 1627.3,677.2 1612.9,680.5 C1598.5,683.8 1585.2,686.5 1573,689.8 C1560.8,693.1 1548.2,696.8 1539.8,700.4 C1531.4,704 1525.8,707.3 1522.5,711.1 C1519.2,714.9 1519.2,718.4 1519.9,723 C1520.6,727.6 1523.2,734.1 1526.5,739 C1529.8,743.9 1534.3,747 1539.8,752.3 C1545.3,757.6 1552,763.1 1559.7,770.9 C1567.5,778.6 1579.7,791.3 1586.3,798.8 C1592.9,806.3 1596.3,810.8 1599.6,816 C1602.9,821.2 1604.2,824.4 1606.2,830 C1608.2,835.6 1610.8,843.9 1611.6,849.9 C1612.4,855.9 1612.8,859.2 1610.9,865.8 C1609.1,872.4 1604.7,882.8 1600.5,889.7 C1596.3,896.6 1590.4,901.9 1585.5,907 C1580.6,912.1 1574,916.4 1571,920.6 C1568,924.8 1566.9,928.8 1567.7,932.3 C1568.5,935.8 1570.4,937.4 1575.7,941.6 C1581,945.8 1590.1,952 1599.6,957.5 C1609.1,963 1621.7,968.8 1632.8,974.8 C1643.9,980.8 1657.1,988.2 1666,993.4 C1674.9,998.6 1679.3,1001.2 1686,1006 C1692.7,1010.8 1700.9,1016.8 1705.9,1021.9 C1710.9,1027 1715.5,1031.8 1715.9,1036.5 C1716.4,1041.2 1714.7,1045.8 1708.6,1049.8 C1702.5,1053.8 1689.7,1057.1 1679.3,1060.4 C1668.9,1063.7 1655.4,1066.4 1646.1,1069.7 C1636.8,1073 1628.8,1076.4 1623.5,1080.4 C1618.2,1084.4 1616,1088.8 1614.2,1093.7 C1612.4,1098.6 1612.2,1103.6 1612.9,1109.6 C1613.6,1115.6 1616,1123.5 1618.2,1129.5 C1620.4,1135.5 1622.7,1138.8 1626.2,1145.5 C1629.8,1152.2 1634,1160.6 1639.5,1169.6 C1645,1178.5 1652.8,1190.3 1659.4,1199.2 C1666,1208.1 1671.5,1214.5 1679.3,1223.1 C1687,1231.7 1696.4,1240.6 1705.9,1251 C1715.4,1261.4 1731.4,1279.8 1736.5,1285.5" fill="none" stroke="#c4c5c5" stroke-width="3.3" stroke-linecap="butt"/>
<g fill="#8a8a8a" stroke="#de5a4f" stroke-width="3.1">
<circle cx="670.9" cy="296.2" r="5.75"/>
<circle cx="684.5" cy="337.6" r="5.75"/>
<circle cx="681.4" cy="328.1" r="5.75"/>
<circle cx="666.3" cy="327.7" r="5.75"/>
<circle cx="659.2" cy="317.8" r="5.75"/>
<circle cx="673.5" cy="322.2" r="5.75"/>
<circle cx="666.7" cy="315.8" r="5.75"/>
<circle cx="683.3" cy="312.6" r="5.75"/>
<circle cx="682.6" cy="308.8" r="5.75"/>
<circle cx="682.8" cy="305" r="5.75"/>
<circle cx="686.9" cy="300.8" r="5.75"/>
<circle cx="560.9" cy="349.5" r="5.75"/>
<circle cx="595.5" cy="343.2" r="5.75"/>
<circle cx="606.8" cy="350.7" r="5.75"/>
<circle cx="621" cy="361" r="5.75"/>
<circle cx="608.3" cy="366.1" r="5.75"/>
<circle cx="655.8" cy="355.9" r="5.75"/>
<circle cx="625.2" cy="420.4" r="5.75"/>
<circle cx="601.5" cy="437.9" r="5.75"/>
<circle cx="594.4" cy="457.7" r="5.75"/>
<circle cx="633.6" cy="479.7" r="5.75"/>
<circle cx="667.7" cy="495.9" r="5.75"/>
<circle cx="675" cy="518.6" r="5.75"/>
<circle cx="638.1" cy="534.7" r="5.75"/>
<circle cx="637.2" cy="555.8" r="5.75"/>
<circle cx="709.2" cy="570.9" r="5.75"/>
<circle cx="668.5" cy="585.8" r="5.75"/>
<circle cx="683.3" cy="600.5" r="5.75"/>
<circle cx="714.3" cy="622" r="5.75"/>
<circle cx="743.3" cy="611.1" r="5.75"/>
<circle cx="759" cy="613.4" r="5.75"/>
<circle cx="752.5" cy="620.3" r="5.75"/>
<circle cx="765.2" cy="625.3" r="5.75"/>
<circle cx="746.5" cy="629.2" r="5.75"/>
<circle cx="757.3" cy="633.2" r="5.75"/>
<circle cx="746.2" cy="638.5" r="5.75"/>
<circle cx="762" cy="639.8" r="5.75"/>
<circle cx="756.7" cy="643.7" r="5.75"/>
<circle cx="764.6" cy="645.7" r="5.75"/>
<circle cx="771.2" cy="647.7" r="5.75"/>
<circle cx="746.8" cy="653" r="5.75"/>
<circle cx="734" cy="656.6" r="5.75"/>
<circle cx="772.5" cy="654.9" r="5.75"/>
<circle cx="777.7" cy="655.6" r="5.75"/>
<circle cx="785.6" cy="660.8" r="5.75"/>
<circle cx="765.6" cy="662.8" r="5.75"/>
<circle cx="724.4" cy="668.1" r="5.75"/>
<circle cx="713" cy="674" r="5.75"/>
<circle cx="736" cy="675.1" r="5.75"/>
<circle cx="723.8" cy="683.2" r="5.75"/>
<circle cx="720.9" cy="696.1" r="5.75"/>
<circle cx="724.8" cy="705.6" r="5.75"/>
<circle cx="743.5" cy="714.6" r="5.75"/>
<circle cx="738.2" cy="730" r="5.75"/>
<circle cx="746.5" cy="734.6" r="5.75"/>
<circle cx="718.9" cy="747.1" r="5.75"/>
<circle cx="724.4" cy="751.7" r="5.75"/>
<circle cx="715.9" cy="763.3" r="5.75"/>
<circle cx="739.8" cy="772.2" r="5.75"/>
<circle cx="761.9" cy="783.3" r="5.75"/>
<circle cx="733.6" cy="789.6" r="5.75"/>
<circle cx="753" cy="797.3" r="5.75"/>
<circle cx="699.3" cy="804.8" r="5.75"/>
<circle cx="734.9" cy="825.6" r="5.75"/>
<circle cx="728.6" cy="841" r="5.75"/>
<circle cx="738.5" cy="858.7" r="5.75"/>
<circle cx="724.9" cy="863.8" r="5.75"/>
<circle cx="730.9" cy="883.1" r="5.75"/>
<circle cx="723.1" cy="900.9" r="5.75"/>
<circle cx="749.7" cy="920" r="5.75"/>
<circle cx="722.3" cy="934.7" r="5.75"/>
<circle cx="708" cy="946.3" r="5.75"/>
<circle cx="707.3" cy="956.7" r="5.75"/>
<circle cx="738.2" cy="967.4" r="5.75"/>
<circle cx="702" cy="973.2" r="5.75"/>
<circle cx="743.5" cy="998.6" r="5.75"/>
<circle cx="733.2" cy="1006.9" r="5.75"/>
<circle cx="732.6" cy="1014.8" r="5.75"/>
<circle cx="738.5" cy="1023.9" r="5.75"/>
<circle cx="736.9" cy="1034.1" r="5.75"/>
<circle cx="748.4" cy="1044" r="5.75"/>
<circle cx="740.5" cy="1053" r="5.75"/>
<circle cx="747.7" cy="1065.7" r="5.75"/>
<circle cx="750.7" cy="1074" r="5.75"/>
<circle cx="745.1" cy="1078.2" r="5.75"/>
<circle cx="766.5" cy="1085.5" r="5.75"/>
<circle cx="730" cy="1094.7" r="5.75"/>
<circle cx="750.3" cy="1104.6" r="5.75"/>
<circle cx="759.3" cy="1111.4" r="5.75"/>
<circle cx="742.4" cy="1125.4" r="5.75"/>
<circle cx="745.1" cy="1128.3" r="5.75"/>
<circle cx="781.7" cy="1132.9" r="5.75"/>
<circle cx="759.2" cy="1139.4" r="5.75"/>
<circle cx="760.2" cy="1147" r="5.75"/>
<circle cx="769.2" cy="1154.5" r="5.75"/>
<circle cx="769.4" cy="1159.5" r="5.75"/>
<circle cx="745.7" cy="1162.1" r="5.75"/>
<circle cx="751.4" cy="1169.1" r="5.75"/>
<circle cx="718.1" cy="1178.9" r="5.75"/>
<circle cx="747.1" cy="1185.4" r="5.75"/>
<circle cx="741.4" cy="1200.6" r="5.75"/>
<circle cx="722.7" cy="1206.5" r="5.75"/>
<circle cx="715.5" cy="1215.5" r="5.75"/>
<circle cx="687.4" cy="1237.2" r="5.75"/>
<circle cx="694.8" cy="1253.6" r="5.75"/>
<circle cx="712.8" cy="1273" r="5.75"/>
<circle cx="729.5" cy="1284.6" r="5.75"/>
</g>
<g fill="#8a8a8a" stroke="#77c8da" stroke-width="2.2">
<circle cx="955.4" cy="322.4" r="5.9"/>
<circle cx="955.4" cy="317" r="5.9"/>
<circle cx="989" cy="330.6" r="5.9"/>
<circle cx="1057.2" cy="336.2" r="5.9"/>
<circle cx="1127.6" cy="454.1" r="5.9"/>
<circle cx="1159.6" cy="306.6" r="5.9"/>
<circle cx="1188.5" cy="294.7" r="5.9"/>
<circle cx="1208.2" cy="300.7" r="5.9"/>
<circle cx="1189.3" cy="310.5" r="5.9"/>
<circle cx="1205.1" cy="312.4" r="5.9"/>
<circle cx="1280.6" cy="345" r="5.9"/>
<circle cx="1329.7" cy="348.7" r="5.9"/>
<circle cx="1342.6" cy="354.3" r="5.9"/>
<circle cx="1225.1" cy="421.8" r="5.9"/>
<circle cx="1165.6" cy="480.4" r="5.9"/>
<circle cx="1041" cy="494" r="5.9"/>
<circle cx="1072.6" cy="518.9" r="5.9"/>
<circle cx="1153.8" cy="532.2" r="5.9"/>
<circle cx="1060.8" cy="557.5" r="5.9"/>
<circle cx="1087.5" cy="586.4" r="5.9"/>
<circle cx="1120.2" cy="597.9" r="5.9"/>
<circle cx="1099.4" cy="615.4" r="5.9"/>
<circle cx="1107.3" cy="619.4" r="5.9"/>
<circle cx="1132.9" cy="613.4" r="5.9"/>
<circle cx="1093.8" cy="683.7" r="5.9"/>
<circle cx="1179.4" cy="679" r="5.9"/>
<circle cx="1145.9" cy="704.1" r="5.9"/>
<circle cx="1138.9" cy="713.9" r="5.9"/>
<circle cx="1043.8" cy="723.5" r="5.9"/>
<circle cx="1057.6" cy="738.7" r="5.9"/>
<circle cx="1072.6" cy="742.6" r="5.9"/>
<circle cx="1066" cy="757.4" r="5.9"/>
<circle cx="1152.3" cy="760.4" r="5.9"/>
<circle cx="1024" cy="771.8" r="5.9"/>
<circle cx="1064.5" cy="779.2" r="5.9"/>
<circle cx="1067.5" cy="790.9" r="5.9"/>
<circle cx="1049.7" cy="796.9" r="5.9"/>
<circle cx="1042.7" cy="804.5" r="5.9"/>
<circle cx="1021.7" cy="811.4" r="5.9"/>
<circle cx="1069.7" cy="831.6" r="5.9"/>
<circle cx="1019.3" cy="846.8" r="5.9"/>
<circle cx="1111.2" cy="864.3" r="5.9"/>
<circle cx="1168.8" cy="889.3" r="5.9"/>
<circle cx="1187.3" cy="906.7" r="5.9"/>
<circle cx="1040.1" cy="926" r="5.9"/>
<circle cx="1052" cy="972.5" r="5.9"/>
<circle cx="1108.2" cy="1011" r="5.9"/>
<circle cx="1134" cy="1018.6" r="5.9"/>
<circle cx="1019.3" cy="1028.3" r="5.9"/>
<circle cx="1046" cy="1037.9" r="5.9"/>
<circle cx="1037.1" cy="1047.8" r="5.9"/>
<circle cx="1003.2" cy="1057" r="5.9"/>
<circle cx="1011.1" cy="1068.9" r="5.9"/>
<circle cx="1015.1" cy="1076.8" r="5.9"/>
<circle cx="1078.7" cy="1082.1" r="5.9"/>
<circle cx="1024" cy="1090" r="5.9"/>
<circle cx="1055" cy="1097.6" r="5.9"/>
<circle cx="1044" cy="1107.4" r="5.9"/>
<circle cx="1026.3" cy="1115.3" r="5.9"/>
<circle cx="1030.9" cy="1128.6" r="5.9"/>
<circle cx="1007.2" cy="1130.5" r="5.9"/>
<circle cx="1017.7" cy="1132.4" r="5.9"/>
<circle cx="1012.2" cy="1142.7" r="5.9"/>
<circle cx="994.4" cy="1149.9" r="5.9"/>
<circle cx="981.7" cy="1157.8" r="5.9"/>
<circle cx="1029.2" cy="1156.7" r="5.9"/>
<circle cx="1033.9" cy="1165.4" r="5.9"/>
<circle cx="1063.8" cy="1171" r="5.9"/>
<circle cx="1038.9" cy="1180.9" r="5.9"/>
<circle cx="1113" cy="1188.6" r="5.9"/>
<circle cx="1045.8" cy="1202" r="5.9"/>
<circle cx="963.8" cy="1207.9" r="5.9"/>
<circle cx="991.6" cy="1217.5" r="5.9"/>
<circle cx="983.5" cy="1238.8" r="5.9"/>
<circle cx="970.6" cy="1256.1" r="5.9"/>
<circle cx="955.8" cy="1273.3" r="5.9"/>
<circle cx="977.5" cy="1284.9" r="5.9"/>
</g>
<g fill="#fff" stroke="#77c8da" stroke-width="2.0">
<circle cx="1209.7" cy="340.7" r="5.9"/>
<circle cx="1129" cy="359.9" r="5.9"/>
<circle cx="1246.8" cy="356" r="5.9"/>
<circle cx="1139.9" cy="632.8" r="5.9"/>
<circle cx="1112.1" cy="640.4" r="5.9"/>
<circle cx="1041.8" cy="636.5" r="5.9"/>
<circle cx="1025.2" cy="644.3" r="5.9"/>
<circle cx="1038.1" cy="646.4" r="5.9"/>
<circle cx="1010.5" cy="649.8" r="5.9"/>
<circle cx="1025.2" cy="650.7" r="5.9"/>
<circle cx="1060.9" cy="648" r="5.9"/>
<circle cx="1068.7" cy="656.2" r="5.9"/>
<circle cx="1089.5" cy="653.8" r="5.9"/>
<circle cx="1004.1" cy="660" r="5.9"/>
<circle cx="1017.3" cy="663.6" r="5.9"/>
<circle cx="1031.9" cy="661.9" r="5.9"/>
<circle cx="1063.8" cy="665.6" r="5.9"/>
<circle cx="1094.5" cy="667.5" r="5.9"/>
<circle cx="1118.7" cy="672.4" r="5.9"/>
<circle cx="1046" cy="870.2" r="5.9"/>
<circle cx="1287.3" cy="939.6" r="5.9"/>
</g>
<g fill="#8a8a8a" stroke="#be9bcd" stroke-width="2.35">
<circle cx="1648.8" cy="294.8" r="5.9"/>
<circle cx="1688.5" cy="300.7" r="5.9"/>
<circle cx="1735.1" cy="306.5" r="5.9"/>
<circle cx="1669.3" cy="309.9" r="5.9"/>
<circle cx="1664" cy="319" r="5.9"/>
<circle cx="1688.5" cy="317.8" r="5.9"/>
<circle cx="1582.1" cy="322.7" r="5.9"/>
<circle cx="1623.6" cy="326.6" r="5.9"/>
<circle cx="1651.9" cy="327.3" r="5.9"/>
<circle cx="1669.7" cy="333.9" r="5.9"/>
<circle cx="1657.8" cy="345.7" r="5.9"/>
<circle cx="1671.9" cy="344.8" r="5.9"/>
<circle cx="1684.1" cy="353.9" r="5.9"/>
<circle cx="1715.7" cy="353.6" r="5.9"/>
<circle cx="1660" cy="358.2" r="5.9"/>
<circle cx="1687.2" cy="363.9" r="5.9"/>
<circle cx="1705.6" cy="422.4" r="5.9"/>
<circle cx="1783.7" cy="460.9" r="5.9"/>
<circle cx="1666.1" cy="485.8" r="5.9"/>
<circle cx="1619.3" cy="497.7" r="5.9"/>
<circle cx="1558.5" cy="522.7" r="5.9"/>
<circle cx="1615.1" cy="536.3" r="5.9"/>
<circle cx="1594" cy="561.7" r="5.9"/>
<circle cx="1574.9" cy="573.1" r="5.9"/>
<circle cx="1705.6" cy="601.9" r="5.9"/>
<circle cx="1633.6" cy="619.2" r="5.9"/>
<circle cx="1728.4" cy="617.3" r="5.9"/>
<circle cx="1732.3" cy="619.9" r="5.9"/>
<circle cx="1735" cy="629.1" r="5.9"/>
<circle cx="1753.8" cy="636" r="5.9"/>
<circle cx="1766.6" cy="632.8" r="5.9"/>
<circle cx="1783.7" cy="636.8" r="5.9"/>
<circle cx="1735" cy="643.9" r="5.9"/>
<circle cx="1727.8" cy="652.9" r="5.9"/>
<circle cx="1756.4" cy="650.2" r="5.9"/>
<circle cx="1746.2" cy="657.9" r="5.9"/>
<circle cx="1731.8" cy="665.6" r="5.9"/>
<circle cx="1711.6" cy="663.9" r="5.9"/>
<circle cx="1691.3" cy="663.6" r="5.9"/>
<circle cx="1673.6" cy="666.8" r="5.9"/>
<circle cx="1661.8" cy="667.6" r="5.9"/>
<circle cx="1608.2" cy="669.2" r="5.9"/>
<circle cx="1591" cy="675.2" r="5.9"/>
<circle cx="1546.2" cy="680.8" r="5.9"/>
<circle cx="1566.6" cy="686.9" r="5.9"/>
<circle cx="1500.3" cy="693.5" r="5.9"/>
<circle cx="1567.7" cy="708.1" r="5.9"/>
<circle cx="1511.9" cy="715.4" r="5.9"/>
<circle cx="1516.8" cy="725.4" r="5.9"/>
<circle cx="1519.5" cy="744" r="5.9"/>
<circle cx="1604" cy="740.7" r="5.9"/>
<circle cx="1526.2" cy="756.9" r="5.9"/>
<circle cx="1539.1" cy="762.2" r="5.9"/>
<circle cx="1491.6" cy="773.5" r="5.9"/>
<circle cx="1670" cy="783.2" r="5.9"/>
<circle cx="1587" cy="792.8" r="5.9"/>
<circle cx="1563.7" cy="798.8" r="5.9"/>
<circle cx="1646.8" cy="808" r="5.9"/>
<circle cx="1538.2" cy="814.4" r="5.9"/>
<circle cx="1651.8" cy="835.5" r="5.9"/>
<circle cx="1615.1" cy="848.9" r="5.9"/>
<circle cx="1722.9" cy="868.2" r="5.9"/>
<circle cx="1531.2" cy="872.1" r="5.9"/>
<circle cx="1546.2" cy="891.5" r="5.9"/>
<circle cx="1600.9" cy="908.7" r="5.9"/>
<circle cx="1604" cy="928" r="5.9"/>
<circle cx="1567.7" cy="941.6" r="5.9"/>
<circle cx="1530.1" cy="953.1" r="5.9"/>
<circle cx="1536.1" cy="962.8" r="5.9"/>
<circle cx="1537.1" cy="980.4" r="5.9"/>
<circle cx="1632.6" cy="974.5" r="5.9"/>
<circle cx="1701.7" cy="1005" r="5.9"/>
<circle cx="1764.4" cy="1013" r="5.9"/>
<circle cx="1793" cy="1020.6" r="5.9"/>
<circle cx="1789.6" cy="1030.5" r="5.9"/>
<circle cx="1753.4" cy="1040.1" r="5.9"/>
<circle cx="1710.8" cy="1049.8" r="5.9"/>
<circle cx="1620.5" cy="1057.5" r="5.9"/>
<circle cx="1724.1" cy="1070.8" r="5.9"/>
<circle cx="1673.6" cy="1077.7" r="5.9"/>
<circle cx="1583.9" cy="1082.4" r="5.9"/>
<circle cx="1545.1" cy="1090.3" r="5.9"/>
<circle cx="1613.3" cy="1099.9" r="5.9"/>
<circle cx="1540.5" cy="1108.3" r="5.9"/>
<circle cx="1578.7" cy="1115.3" r="5.9"/>
<circle cx="1598" cy="1128.9" r="5.9"/>
<circle cx="1618.9" cy="1132.6" r="5.9"/>
<circle cx="1627.5" cy="1135.5" r="5.9"/>
<circle cx="1724.9" cy="1142.4" r="5.9"/>
<circle cx="1734.9" cy="1150.1" r="5.9"/>
<circle cx="1764" cy="1156.8" r="5.9"/>
<circle cx="1765" cy="1165.4" r="5.9"/>
<circle cx="1532.1" cy="1165.7" r="5.9"/>
<circle cx="1544.2" cy="1171.4" r="5.9"/>
<circle cx="1558.7" cy="1181" r="5.9"/>
<circle cx="1546.2" cy="1188.8" r="5.9"/>
<circle cx="1655.8" cy="1204.1" r="5.9"/>
<circle cx="1709.6" cy="1217.8" r="5.9"/>
<circle cx="1746.2" cy="1209.8" r="5.9"/>
<circle cx="1676" cy="1238.8" r="5.9"/>
<circle cx="1697.5" cy="1256.3" r="5.9"/>
<circle cx="1737.4" cy="1272.5" r="5.9"/>
<circle cx="1728.9" cy="1285.3" r="5.9"/>
</g>
<g fill="#8a8a8a" stroke="#7abe1e" stroke-width="3.1">
<circle cx="2298.5" cy="313.6" r="6.0"/>
<circle cx="2282.6" cy="330.2" r="6.0"/>
<circle cx="2318.5" cy="323.6" r="6.0"/>
<circle cx="2349" cy="339.5" r="6.0"/>
<circle cx="2289" cy="421.8" r="6.0"/>
<circle cx="2164.3" cy="454.5" r="6.0"/>
<circle cx="2169.6" cy="492.9" r="6.0"/>
<circle cx="2199.9" cy="533.7" r="6.0"/>
<circle cx="2265.3" cy="552.3" r="6.0"/>
<circle cx="2149.4" cy="584" r="6.0"/>
<circle cx="2165" cy="597.8" r="6.0"/>
<circle cx="2231" cy="626.1" r="6.0"/>
<circle cx="2138.4" cy="614.8" r="6.0"/>
<circle cx="2149.7" cy="619" r="6.0"/>
<circle cx="2130.4" cy="625.4" r="6.0"/>
<circle cx="2139.1" cy="628.7" r="6.0"/>
<circle cx="2153.7" cy="629.7" r="6.0"/>
<circle cx="2121.8" cy="631.4" r="6.0"/>
<circle cx="2123.1" cy="637.7" r="6.0"/>
<circle cx="2131" cy="638.5" r="6.0"/>
<circle cx="2113.8" cy="649" r="6.0"/>
<circle cx="2126" cy="649.5" r="6.0"/>
<circle cx="2139.3" cy="657.6" r="6.0"/>
<circle cx="2102.1" cy="662.6" r="6.0"/>
<circle cx="2131.4" cy="668.1" r="6.0"/>
<circle cx="2189.2" cy="672.8" r="6.0"/>
<circle cx="2144.4" cy="680.9" r="6.0"/>
<circle cx="2128.7" cy="689.4" r="6.0"/>
<circle cx="2142.4" cy="698" r="6.0"/>
<circle cx="2119.1" cy="707.1" r="6.0"/>
<circle cx="2127.1" cy="716.6" r="6.0"/>
<circle cx="2126" cy="721.7" r="6.0"/>
<circle cx="2154" cy="733.4" r="6.0"/>
<circle cx="2127.8" cy="737.6" r="6.0"/>
<circle cx="2146" cy="754.5" r="6.0"/>
<circle cx="2108.9" cy="758.9" r="6.0"/>
<circle cx="2099.5" cy="769.1" r="6.0"/>
<circle cx="2113.4" cy="774.9" r="6.0"/>
<circle cx="2140.4" cy="782.8" r="6.0"/>
<circle cx="2126.4" cy="795.4" r="6.0"/>
<circle cx="2155.4" cy="814.8" r="6.0"/>
<circle cx="2130.4" cy="839.2" r="6.0"/>
<circle cx="2194.2" cy="853.9" r="6.0"/>
<circle cx="2186.9" cy="862.8" r="6.0"/>
<circle cx="2165.4" cy="880.7" r="6.0"/>
<circle cx="2110.8" cy="898.4" r="6.0"/>
<circle cx="2190.9" cy="917.9" r="6.0"/>
<circle cx="2188.5" cy="931.6" r="6.0"/>
<circle cx="2186.9" cy="941.6" r="6.0"/>
<circle cx="2201.5" cy="953.8" r="6.0"/>
<circle cx="2209.5" cy="966.5" r="6.0"/>
<circle cx="2278.6" cy="968.8" r="6.0"/>
<circle cx="2133.8" cy="979.4" r="6.0"/>
<circle cx="2140.4" cy="989.4" r="6.0"/>
<circle cx="2128.4" cy="1002.8" r="6.0"/>
<circle cx="2165" cy="1010.2" r="6.0"/>
<circle cx="2144.7" cy="1018.8" r="6.0"/>
<circle cx="2105.4" cy="1028.9" r="6.0"/>
<circle cx="2127.4" cy="1038.1" r="6.0"/>
<circle cx="2119.1" cy="1047.8" r="6.0"/>
<circle cx="2147.4" cy="1059.8" r="6.0"/>
<circle cx="2121.5" cy="1068" r="6.0"/>
<circle cx="2116.1" cy="1077" r="6.0"/>
<circle cx="2149" cy="1083.4" r="6.0"/>
<circle cx="2128.7" cy="1091.3" r="6.0"/>
<circle cx="2144.1" cy="1095.9" r="6.0"/>
<circle cx="2132.7" cy="1103" r="6.0"/>
<circle cx="2128.8" cy="1110.3" r="6.0"/>
<circle cx="2121.8" cy="1119.6" r="6.0"/>
<circle cx="2139.3" cy="1125.5" r="6.0"/>
<circle cx="2111.2" cy="1136.2" r="6.0"/>
<circle cx="2133.4" cy="1144.4" r="6.0"/>
<circle cx="2112.1" cy="1148.4" r="6.0"/>
<circle cx="2115.8" cy="1158.1" r="6.0"/>
<circle cx="2132.8" cy="1159.7" r="6.0"/>
<circle cx="2173.6" cy="1166.3" r="6.0"/>
<circle cx="2162.3" cy="1182.3" r="6.0"/>
<circle cx="2210.8" cy="1187.3" r="6.0"/>
<circle cx="2207.9" cy="1195.9" r="6.0"/>
<circle cx="2127.4" cy="1203.2" r="6.0"/>
<circle cx="2173.6" cy="1206.5" r="6.0"/>
<circle cx="2150" cy="1215.2" r="6.0"/>
</g>
<rect x="148.7" y="1406.2" width="180.6" height="100.9" fill="#a0d8f5" stroke="#231f20" stroke-width="3"/>
<line x1="148.7" y1="1438.6" x2="329.3" y2="1438.6" stroke="#231f20" stroke-width="3"/>
<line x1="148.7" y1="1476" x2="329.3" y2="1476" stroke="#231f20" stroke-width="3"/>
<line x1="245.1" y1="1406.2" x2="245.1" y2="1438.6" stroke="#231f20" stroke-width="3"/>
<line x1="183.6" y1="1438.6" x2="183.6" y2="1476" stroke="#231f20" stroke-width="3"/>
<line x1="289.5" y1="1438.6" x2="289.5" y2="1476" stroke="#231f20" stroke-width="3"/>
<line x1="242.6" y1="1476" x2="242.6" y2="1507.1" stroke="#231f20" stroke-width="3"/>
<rect x="483.9" y="1406.2" width="180.6" height="100.9" fill="#dcdcdc" stroke="#231f20" stroke-width="3"/>
<line x1="483.9" y1="1436.8" x2="664.5" y2="1436.8" stroke="#231f20" stroke-width="3"/>
<line x1="483.9" y1="1472.2" x2="664.5" y2="1472.2" stroke="#231f20" stroke-width="3"/>
<line x1="545.4" y1="1406.2" x2="545.4" y2="1436.8" stroke="#231f20" stroke-width="3"/>
<line x1="613.4" y1="1436.8" x2="613.4" y2="1472.2" stroke="#231f20" stroke-width="3"/>
<line x1="545.4" y1="1472.2" x2="545.4" y2="1507.1" stroke="#231f20" stroke-width="3"/>
<line x1="601" y1="1421.9" x2="629.6" y2="1421.9" stroke="#231f20" stroke-width="2.6"/>
<line x1="521.2" y1="1456.8" x2="549.9" y2="1456.8" stroke="#231f20" stroke-width="2.6"/>
<line x1="601" y1="1491" x2="629.6" y2="1491" stroke="#231f20" stroke-width="2.6"/>
<rect x="845.8" y="1406.2" width="180.6" height="100.9" fill="#dbb866" stroke="#231f20" stroke-width="3"/>
<line x1="867" y1="1424.9" x2="891.9" y2="1424.9" stroke="#231f20" stroke-width="2.8"/>
<line x1="923.2" y1="1424.9" x2="948" y2="1424.9" stroke="#231f20" stroke-width="2.8"/>
<line x1="977.6" y1="1424.9" x2="1002" y2="1424.9" stroke="#231f20" stroke-width="2.8"/>
<line x1="891" y1="1460.3" x2="915.5" y2="1460.3" stroke="#231f20" stroke-width="2.8"/>
<line x1="953.6" y1="1460.3" x2="978" y2="1460.3" stroke="#231f20" stroke-width="2.8"/>
<line x1="867" y1="1495.2" x2="891.9" y2="1495.2" stroke="#231f20" stroke-width="2.8"/>
<line x1="923.2" y1="1495.2" x2="948" y2="1495.2" stroke="#231f20" stroke-width="2.8"/>
<line x1="977.6" y1="1495.2" x2="1002" y2="1495.2" stroke="#231f20" stroke-width="2.8"/>
<rect x="1210.2" y="1406.2" width="181.4" height="100.9" fill="#b0dde4" stroke="#231f20" stroke-width="3"/>
<path d="M1211,1443.6 C1235,1437.5 1255,1426.5 1279.5,1426.2 C1304,1426 1323,1437.5 1348,1438.2 C1364,1438.5 1378,1435 1390.4,1432.9" fill="none" stroke="#231f20" stroke-width="2.4"/>
<path d="M1211,1469.8 C1230,1467.5 1256,1469 1275,1475.5 C1288,1480 1300,1482 1313,1478 C1328,1472.5 1342,1466 1356,1465.8 C1370,1465.6 1380,1466.5 1390.4,1468.5" fill="none" stroke="#231f20" stroke-width="2.4"/>
<line x1="1257.6" y1="1406.2" x2="1257.6" y2="1427.5" stroke="#231f20" stroke-width="2.4"/>
<line x1="1346.3" y1="1406.2" x2="1346.3" y2="1438" stroke="#231f20" stroke-width="2.4"/>
<line x1="1227.2" y1="1440" x2="1227.2" y2="1469" stroke="#231f20" stroke-width="2.4"/>
<line x1="1313.7" y1="1432" x2="1313.7" y2="1478.5" stroke="#231f20" stroke-width="2.4"/>
<line x1="1265.8" y1="1474" x2="1265.8" y2="1507.1" stroke="#231f20" stroke-width="2.4"/>
<line x1="1366" y1="1465.5" x2="1366" y2="1507.1" stroke="#231f20" stroke-width="2.4"/>
<rect x="1568.7" y="1406.2" width="181.4" height="100.9" fill="#8b8a62" stroke="#231f20" stroke-width="2.4"/>
<path d="M1597.8,1427.5 L1617.8,1427.5 M1607.8,1427.5 L1607.8,1412.5" stroke="#111" stroke-width="3.0" fill="none"/>
<path d="M1669.6,1427.5 L1689.6,1427.5 M1679.6,1427.5 L1679.6,1412.5" stroke="#111" stroke-width="3.0" fill="none"/>
<path d="M1636.9,1411 L1649.9,1429 M1643.7,1420.2 L1638.2,1428.2" stroke="#111" stroke-width="3.0" fill="none"/>
<path d="M1708,1411 L1721,1429 M1714.8,1420.2 L1709.3,1428.2" stroke="#111" stroke-width="3.0" fill="none"/>
<path d="M1613.5,1464 L1633.5,1464 M1623.5,1464 L1623.5,1449" stroke="#111" stroke-width="3.0" fill="none"/>
<path d="M1690.8,1464 L1710.8,1464 M1700.8,1464 L1700.8,1449" stroke="#111" stroke-width="3.0" fill="none"/>
<path d="M1580.9,1447.5 L1593.9,1465.5 M1587.7,1456.7 L1582.2,1464.7" stroke="#111" stroke-width="3.0" fill="none"/>
<path d="M1652.6,1447.5 L1665.6,1465.5 M1659.4,1456.7 L1653.9,1464.7" stroke="#111" stroke-width="3.0" fill="none"/>
<path d="M1729.9,1447.5 L1742.9,1465.5 M1736.7,1456.7 L1731.2,1464.7" stroke="#111" stroke-width="3.0" fill="none"/>
<path d="M1604.3,1499.5 L1624.3,1499.5 M1614.3,1499.5 L1614.3,1484.5" stroke="#111" stroke-width="3.0" fill="none"/>
<path d="M1675.8,1499.5 L1695.8,1499.5 M1685.8,1499.5 L1685.8,1484.5" stroke="#111" stroke-width="3.0" fill="none"/>
<path d="M1643.2,1483 L1656.2,1501 M1650,1492.2 L1644.5,1500.2" stroke="#111" stroke-width="3.0" fill="none"/>
<path d="M1714.9,1483 L1727.9,1501 M1721.7,1492.2 L1716.2,1500.2" stroke="#111" stroke-width="3.0" fill="none"/>
<rect x="1883.9" y="1406.2" width="181.2" height="100.9" fill="#4a4a4a" stroke="#231f20" stroke-width="3"/>
<line x1="1883.9" y1="1440.3" x2="2065.1" y2="1440.3" stroke="#231f20" stroke-width="3"/>
<line x1="1883.9" y1="1475.2" x2="2065.1" y2="1475.2" stroke="#231f20" stroke-width="3"/>
<rect x="2201.3" y="1406.2" width="180.6" height="100.9" fill="#888888" stroke="#231f20" stroke-width="3"/>
<line x1="2201.3" y1="1437.3" x2="2381.9" y2="1437.3" stroke="#231f20" stroke-width="3"/>
<line x1="2201.3" y1="1476.7" x2="2381.9" y2="1476.7" stroke="#231f20" stroke-width="3"/>
<line x1="2228.2" y1="1420.7" x2="2250.3" y2="1420.7" stroke="#231f20" stroke-width="2.6"/>
<path d="M2288.2,1409.1 L2283,1418.6 Q2281,1424.9 2286,1424.9 L2297.2,1424.9" fill="none" stroke="#231f20" stroke-width="2.6"/>
<line x1="2333.4" y1="1420.7" x2="2355.3" y2="1420.7" stroke="#231f20" stroke-width="2.6"/>
<path d="M2232.4,1449 L2227.2,1458.5 Q2225.2,1464.8 2230.2,1464.8 L2241.4,1464.8" fill="none" stroke="#231f20" stroke-width="2.6"/>
<line x1="2276.6" y1="1456.1" x2="2298.8" y2="1456.1" stroke="#231f20" stroke-width="2.6"/>
<path d="M2334,1449 L2328.8,1458.5 Q2326.8,1464.8 2331.8,1464.8 L2343,1464.8" fill="none" stroke="#231f20" stroke-width="2.6"/>
<line x1="2226.6" y1="1496.3" x2="2248.7" y2="1496.3" stroke="#231f20" stroke-width="2.6"/>
<path d="M2286.4,1484.2 L2281.2,1493.7 Q2279.2,1500 2284.2,1500 L2295.4,1500" fill="none" stroke="#231f20" stroke-width="2.6"/>
<line x1="2332.1" y1="1496.3" x2="2353.7" y2="1496.3" stroke="#231f20" stroke-width="2.6"/>
<g style="font-family:'Liberation Serif','Times New Roman',serif" fill="#231f20" font-size="41">
<text x="147.5" y="1570.7" textLength="190">Limestone</text>
<text x="428" y="1567" textLength="313">Muddy limestone</text>
<text x="845" y="1570.7" textLength="178.5">Mudstone</text>
<text x="1146.5" y="1570.7" textLength="333">Nodular limestone</text>
<text x="1600.5" y="1570.7" textLength="129">Diorite</text>
<text x="1933" y="1570.7" textLength="98.5">Shale</text>
<text x="2115" y="1571.9" textLength="384">Calcareous mudstone</text>
</g>
</svg>
</body></html>
